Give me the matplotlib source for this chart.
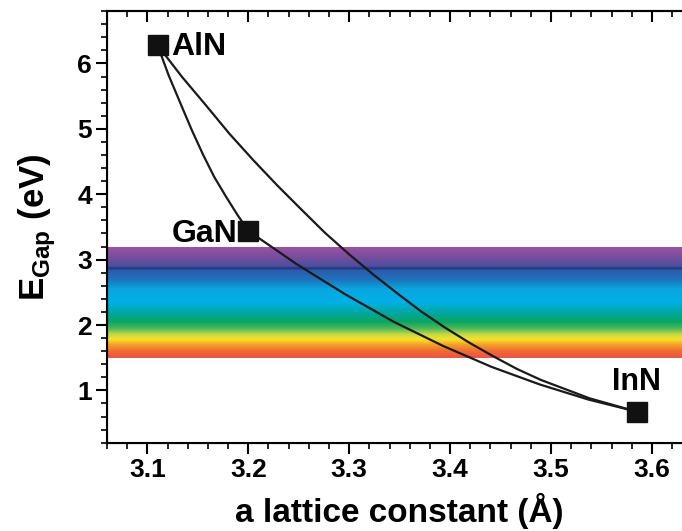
import numpy as np
import matplotlib
matplotlib.use('Agg')
import matplotlib.pyplot as plt
from matplotlib.colors import LinearSegmentedColormap
from matplotlib.ticker import MultipleLocator

plt.rcParams['font.family'] = ['Liberation Sans', 'DejaVu Sans']
plt.rcParams['font.weight'] = 'bold'

# binary end points (lattice constant in A, gap in eV)
names = ['AlN', 'GaN', 'InN']
a_bin = [3.11, 3.20, 3.585]
e_bin = [6.28, 3.44, 0.675]

# points
a_algan = [3.110, 3.121, 3.133, 3.144, 3.155, 3.166, 3.178, 3.189, 3.200]
e_algan = [6.28, 5.82, 5.38, 4.98, 4.61, 4.27, 3.96, 3.69, 3.44]

a_ingan = [3.200, 3.248, 3.296, 3.344, 3.393, 3.441, 3.489, 3.537, 3.585]
e_ingan = [3.44, 2.93, 2.47, 2.05, 1.68, 1.36, 1.09, 0.86, 0.675]

a_alinn = [3.110, 3.134, 3.158, 3.181, 3.205, 3.229, 3.253, 3.276, 3.300, 3.324,
           3.348, 3.371, 3.395, 3.419, 3.443, 3.466, 3.490, 3.538, 3.585]
e_alinn = [6.28, 5.80, 5.36, 4.93, 4.52, 4.13, 3.76, 3.41, 3.08, 2.77,
           2.48, 2.21, 1.96, 1.73, 1.52, 1.33, 1.16, 0.88, 0.675]

# visible spectrum band (eV) and its colour stops
band_lo, band_hi = 1.50, 3.19
spec_e = [1.50, 1.60, 1.70, 1.78, 1.86, 1.95, 2.05, 2.20, 2.35, 2.55, 2.70, 2.84, 2.87, 2.90, 3.05, 3.19]
spec_c = ['#ec5448', '#f06a32', '#f5a028', '#f6e22a', '#c4d844', '#4cb85a', '#0aa564', '#00a8a4',
          '#00b0e6', '#0aa6e0', '#1e72bc', '#2d5caa', '#22307e', '#4a509e', '#7a4d9e', '#9a52a2']

fig = plt.figure(figsize=(6.82, 5.31), dpi=100)
ax = fig.add_axes([0.157, 0.1663, 0.858, 0.8127])

xmin, xmax = 3.06, 3.64
ymin, ymax = 0.2, 6.8

stops = [(e - band_lo) / (band_hi - band_lo) for e in spec_e]
cmap = LinearSegmentedColormap.from_list('spec', list(zip(stops, spec_c)))
grad = np.linspace(0, 1, 400).reshape(-1, 1)
ax.imshow(grad, cmap=cmap, origin='lower', aspect='auto',
          extent=[xmin, xmax, band_lo, band_hi], zorder=0)

for a, e in [(a_algan, e_algan), (a_ingan, e_ingan), (a_alinn, e_alinn)]:
    ax.plot(a, e, color='#1a1a1a', lw=1.6, zorder=2)

ax.plot(a_bin, e_bin, 's', color='#111111', markersize=14, zorder=3)

ax.text(a_bin[0] + 0.014, e_bin[0] - 0.03, names[0], fontsize=23, fontweight='bold',
        ha='left', va='center')
ax.text(a_bin[1] - 0.011, e_bin[1] - 0.05, names[1], fontsize=23, fontweight='bold',
        ha='right', va='center')
ax.text(a_bin[2], e_bin[2] + 0.23, names[2], fontsize=22, fontweight='bold',
        ha='center', va='bottom')

ax.set_xlim(xmin, xmax)
ax.set_ylim(ymin, ymax)
ax.xaxis.set_major_locator(MultipleLocator(0.1))
ax.xaxis.set_minor_locator(MultipleLocator(0.02))
ax.yaxis.set_major_locator(MultipleLocator(1))
ax.yaxis.set_minor_locator(MultipleLocator(0.2))
ax.xaxis.set_major_formatter(plt.FormatStrFormatter('%.1f'))

ax.tick_params(axis='both', which='major', length=8, width=1.5, labelsize=19, direction='out', pad=3)
ax.tick_params(axis='both', which='minor', length=4, width=1.2, direction='out')
for sp in ax.spines.values():
    sp.set_linewidth(1.5)
ax.spines['right'].set_visible(False)

# mirrored ticks on the top edge, pointing inwards
top = ax.twiny()
top.set_xlim(xmin, xmax)
top.xaxis.set_major_locator(MultipleLocator(0.1))
top.xaxis.set_minor_locator(MultipleLocator(0.02))
top.tick_params(axis='x', which='major', length=8, width=1.5, direction='in', labeltop=False)
top.tick_params(axis='x', which='minor', length=4, width=1.2, direction='in')
top.spines['right'].set_visible(False)
top.spines['top'].set_linewidth(1.5)

ax.set_xlabel('a lattice constant (Å)', fontsize=24, fontweight='bold', labelpad=8)
ax.set_ylabel(r'E$_{\mathregular{Gap}}$ (eV)', fontsize=25, fontweight='bold', labelpad=14)

fig.savefig('out.png', dpi=100)
